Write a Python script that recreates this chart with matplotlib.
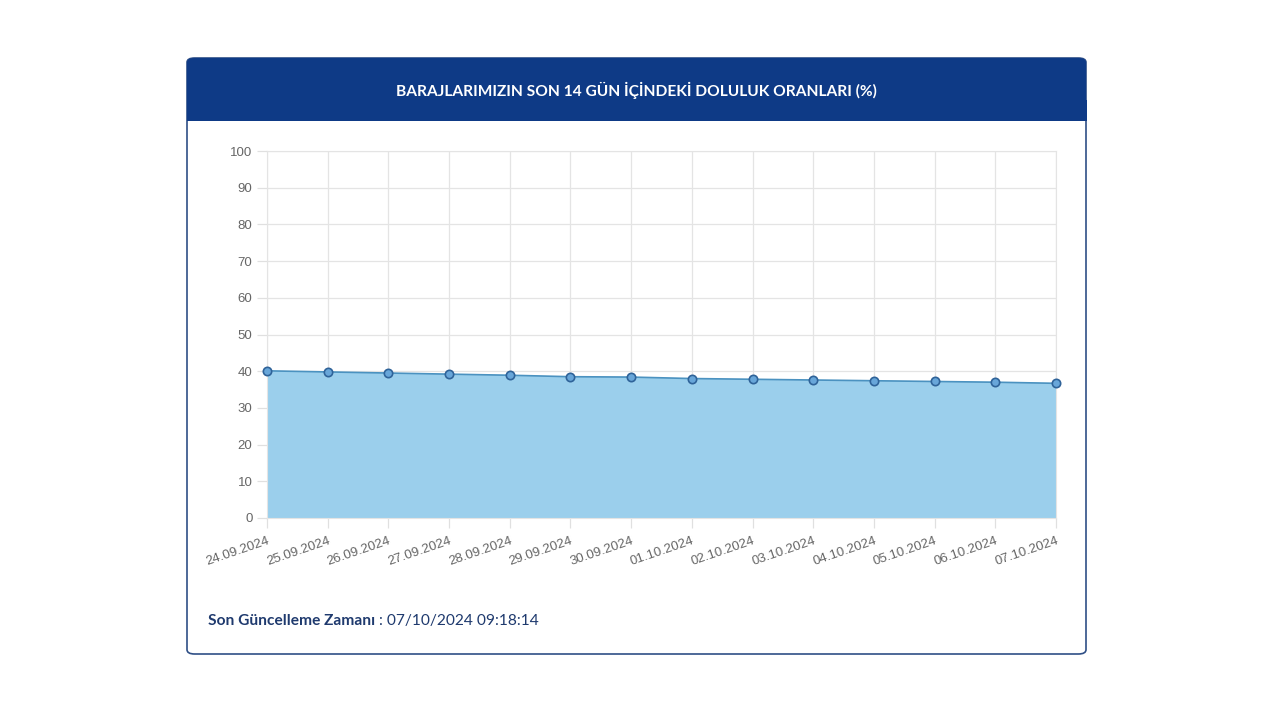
import matplotlib
matplotlib.use("Agg")
import matplotlib.pyplot as plt
from matplotlib.patches import FancyBboxPatch, Rectangle

# data
dates = ['24.09.2024', '25.09.2024', '26.09.2024', '27.09.2024', '28.09.2024',
         '29.09.2024', '30.09.2024', '01.10.2024', '02.10.2024', '03.10.2024',
         '04.10.2024', '05.10.2024', '06.10.2024', '07.10.2024']
doluluk = [40.1, 39.8, 39.5, 39.2, 38.9, 38.5, 38.4, 38.0, 37.8, 37.6, 37.4, 37.2, 37.0, 36.7]
yticks = [0, 10, 20, 30, 40, 50, 60, 70, 80, 90, 100]

title = 'BARAJLARIMIZIN SON 14 GÜN İÇİNDEKİ DOLULUK ORANLARI (%)'
footer_bold = 'Son Güncelleme Zamanı'
footer_val = ' : 07/10/2024 09:18:14'

navy = '#0e3a86'
W, H = 1280, 720

fig = plt.figure(figsize=(12.8, 7.2), dpi=100)
fig.patch.set_facecolor('white')

def fx(px):
    return px / W

def fy(py):
    return 1 - py / H

# card outline
card = FancyBboxPatch((fx(187), fy(654)), fx(1086) - fx(187), fy(58) - fy(654),
                      boxstyle='round,pad=0,rounding_size=0.006',
                      transform=fig.transFigure, facecolor='white',
                      edgecolor='#2f4f86', linewidth=1.2, zorder=-2)
fig.patches.append(card)

# header band (rounded top, square bottom)
head = FancyBboxPatch((fx(187), fy(118)), fx(1086) - fx(187), fy(58) - fy(118),
                      boxstyle='round,pad=0,rounding_size=0.006',
                      transform=fig.transFigure, facecolor=navy,
                      edgecolor='none', zorder=-1)
fig.patches.append(head)
fig.patches.append(Rectangle((fx(186.5), fy(120.5)), fx(1086.5) - fx(186.5), fy(100) - fy(120.5),
                             transform=fig.transFigure, facecolor=navy,
                             edgecolor='none', zorder=-1))

fig.text(fx(636), fy(90), title, color='white', fontsize=11.2, fontweight='bold',
         family='Lato', ha='center', va='center', zorder=2)

# plot area
ax = fig.add_axes([fx(267), fy(518), fx(1056) - fx(267), fy(151) - fy(518)])
ax.set_zorder(5)
ax.set_facecolor('white')
x = list(range(len(dates)))
ax.fill_between(x, doluluk, 0, color='#9bcfec', zorder=2)
ax.plot(x, doluluk, color='#4b92c0', linewidth=1.2, zorder=3)
ax.plot(x, doluluk, 'o', markersize=6, markerfacecolor='#68a6d9',
        markeredgecolor='#2f6399', markeredgewidth=1.2, zorder=4, clip_on=False)

ax.set_xlim(0, len(dates) - 1)
ax.set_ylim(0, 100)
ax.set_yticks(yticks)
ax.set_xticks(x)
ax.set_xticklabels(dates, rotation=19, ha='right', rotation_mode='anchor')
ax.grid(True, color='#e4e4e4', linewidth=0.9, zorder=0)
ax.set_axisbelow(True)
for s in ax.spines.values():
    s.set_color('#e4e4e4')
ax.tick_params(axis='both', colors='#e0e0e0', labelcolor='#666666',
               labelsize=9.5, length=7, width=0.9)
ax.tick_params(axis='x', pad=5)
for lab in ax.get_xticklabels() + ax.get_yticklabels():
    lab.set_family('Liberation Sans')

# footer
t1 = fig.text(fx(208), fy(621), footer_bold, color='#1f3a6e', fontsize=11.2,
              fontweight='bold', family='Lato', va='center')
fig.canvas.draw()
bb = t1.get_window_extent()
fig.text(bb.x1 / W, fy(621), footer_val, color='#1f3a6e', fontsize=11.2,
         family='Lato', va='center')

fig.savefig('out.png', dpi=100, facecolor='white')
